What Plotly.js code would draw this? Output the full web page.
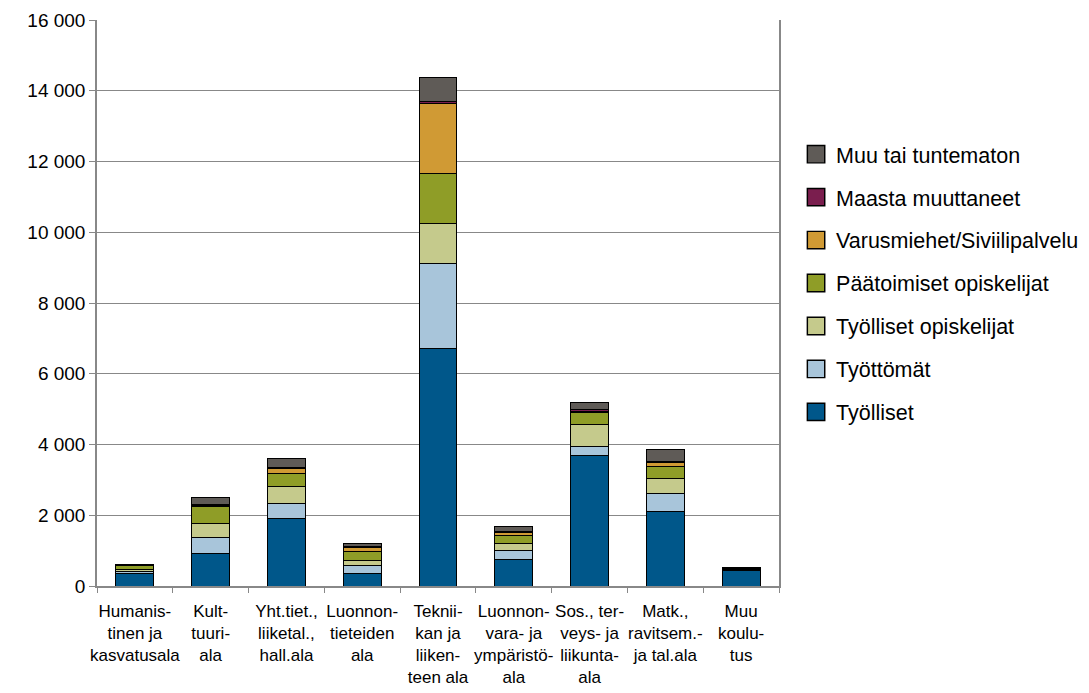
<!DOCTYPE html>
<html>
<head>
<meta charset="utf-8">
<script src="https://cdn.plot.ly/plotly-3.0.1.min.js"></script>
<style>html,body{margin:0;padding:0;background:#fff;}#chart{width:1089px;height:693px;}</style>
</head>
<body>
<div id="chart"></div>
<script>
const categories = [
  "Humanis-<br>tinen ja<br>kasvatusala",
  "Kult-<br>tuuri-<br>ala",
  "Yht.tiet.,<br>liiketal.,<br>hall.ala",
  "Luonnon-<br>tieteiden<br>ala",
  "Teknii-<br>kan ja<br>liiken-<br>teen ala",
  "Luonnon-<br>vara- ja<br>ympäristö-<br>ala",
  "Sos., ter-<br>veys- ja<br>liikunta-<br>ala",
  "Matk.,<br>ravitsem.-<br>ja tal.ala",
  "Muu<br>koulu-<br>tus"
];
const tyolliset        = [360, 915, 1895, 345, 6720, 755, 3700, 2120, 440];
const tyottomat        = [50, 455, 440, 245, 2385, 255, 250, 490, 10];
const tyollisetOpisk   = [65, 400, 485, 135, 1140, 205, 625, 435, 10];
const paatoimisetOpisk = [95, 465, 370, 240, 1405, 200, 330, 330, 15];
const varusmiehet      = [15, 40, 135, 120, 1990, 95, 40, 105, 5];
const maastaMuuttaneet = [5, 20, 20, 30, 55, 30, 35, 45, 10];
const muuTuntematon    = [30, 200, 265, 95, 690, 150, 210, 340, 40];

const seriesNames = ["Työlliset", "Työttömät", "Työlliset opiskelijat", "Päätoimiset opiskelijat",
  "Varusmiehet/Siviilipalvelu", "Maasta muuttaneet", "Muu tai tuntematon"];
const seriesData = [tyolliset, tyottomat, tyollisetOpisk, paatoimisetOpisk, varusmiehet, maastaMuuttaneet, muuTuntematon];
const colors = ["#00578a", "#a8c5da", "#c5ca8c", "#8f9d27", "#d09a34", "#7a1e4e", "#5f5b57"];

const yTickVals = [0, 2000, 4000, 6000, 8000, 10000, 12000, 14000, 16000];
const yTickText = ["0", "2 000", "4 000", "6 000", "8 000", "10 000", "12 000", "14 000", "16 000"];

const traces = seriesNames.map((name, i) => ({
  type: "bar",
  name: name,
  x: categories,
  y: seriesData[i],
  legendgroup: "g" + i,
  legendrank: 100 - i,
  marker: {color: colors[i], line: {color: "#000", width: 1}},
  width: 0.5
}));

const layout = {
  width: 1089, height: 693,
  margin: {l: 97, r: 310, t: 20, b: 107, autoexpand: false},
  barmode: "stack",
  paper_bgcolor: "#fff", plot_bgcolor: "#fff",
  font: {family: "Liberation Sans, Arial, sans-serif", color: "#000"},
  xaxis: {
    type: "category",
    showline: true, linecolor: "#888", linewidth: 1.5,
    ticks: "outside", tickson: "boundaries", ticklen: 5, tickcolor: "#888",
    tickangle: 0, ticklabelstandoff: 9,
    tickfont: {size: 17, color: "#000"},
    showgrid: false
  },
  yaxis: {
    range: [0, 16000],
    tickvals: yTickVals, ticktext: yTickText,
    showline: true, linecolor: "#888", linewidth: 1.5, mirror: true,
    ticks: "outside", ticklen: 6, tickcolor: "#888",
    gridcolor: "#888", gridwidth: 1,
    zeroline: false,
    tickfont: {size: 19, color: "#000"}
  },
  legend: {
    x: 1.025, xanchor: "left", y: 0.535, yanchor: "middle",
    traceorder: "grouped", tracegroupgap: 12,
    font: {size: 21.5, color: "#000"},
    bgcolor: "rgba(0,0,0,0)"
  },
  showlegend: true
};

Plotly.newPlot("chart", traces, layout, {displayModeBar: false}).then(function (gd) {
  // enlarge legend swatches to match the reference's bigger squares
  gd.querySelectorAll(".legend .legendpoints path").forEach(function (p) {
    const t = p.getAttribute("transform") || "";
    p.setAttribute("transform", t + " scale(1.45)");
  });
});
</script>
</body>
</html>
